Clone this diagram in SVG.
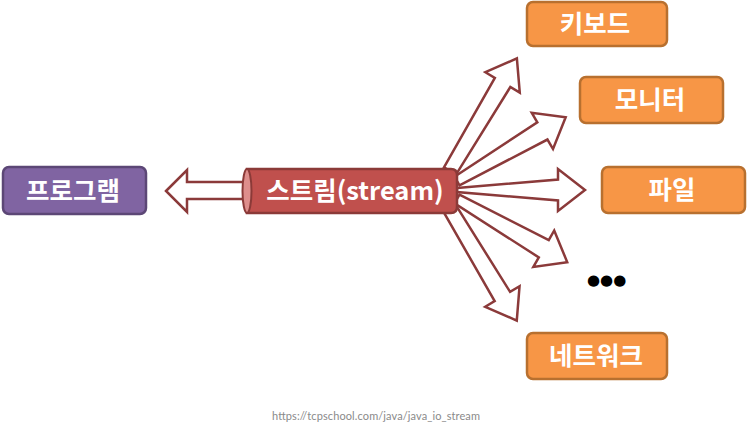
<svg xmlns="http://www.w3.org/2000/svg" width="750" height="433" viewBox="0 0 750 433">
<style>
.arr{fill:#ffffff;stroke:#8B3A3A;stroke-width:2.5;stroke-linejoin:miter}
.org{fill:#F79646;stroke:#B8702F;stroke-width:2.5}
.lbl{font-family:"Noto Sans CJK KR","Noto Sans",sans-serif;font-weight:bold;font-size:25.5px;fill:#ffffff;text-anchor:middle}
</style>
<rect width="750" height="433" fill="#ffffff"/>
<g id="connectors">
<polygon class="arr" points="166,191 187,170 187,182 245,182 245,199 187,199 187,212"/>
<polygon class="arr" transform="translate(450,171) rotate(-59.3)" points="0,-7 103,-9 103,-20 131,0 103,20 103,9 0,7"/>
<polygon class="arr" transform="translate(457,181) rotate(-30.4)" points="0,-5 99,-10 99,-21 126,0 99,21 99,10 0,5"/>
<polygon class="arr" transform="translate(457,190)" points="0,-2 101,-10.5 101,-21 128,0 101,21 101,10.5 0,2"/>
<polygon class="arr" transform="translate(457,199) rotate(29.8)" points="0,-5 100,-10 100,-21 127,0 100,21 100,10 0,5"/>
<polygon class="arr" transform="translate(450,209) rotate(59.1)" points="0,-7 102,-9 102,-20 130,0 102,20 102,9 0,7"/>
</g>
<g id="program">
<rect x="3" y="167" width="143" height="47" rx="6" fill="#8064A2" stroke="#5C4776" stroke-width="2.5"/>
<text class="lbl" x="73" y="200">프로그램</text>
</g>
<g id="stream">
<path d="M247,169 H451 Q457,169 457,175 V207 Q457,213 451,213 H247 Z" fill="#C0504D" stroke="#8B3A38" stroke-width="2.5"/>
<ellipse cx="247" cy="191" rx="4.5" ry="22" fill="#DE8E8C" stroke="#8B3A38" stroke-width="2"/>
<text class="lbl" x="355" y="200">스트림(stream)</text>
</g>
<g id="keyboard">
<rect class="org" x="527" y="2" width="140" height="44" rx="6"/>
<text class="lbl" x="595" y="33">키보드</text>
</g>
<g id="monitor">
<rect class="org" x="580" y="77" width="143" height="46" rx="6"/>
<text class="lbl" x="650" y="109">모니터</text>
</g>
<g id="file">
<rect class="org" x="602" y="167" width="143" height="46" rx="6"/>
<text class="lbl" x="672" y="199">파일</text>
</g>
<g id="network">
<rect class="org" x="527" y="333" width="140" height="46" rx="6"/>
<text class="lbl" x="596" y="365">네트워크</text>
</g>
<g id="more">
<text x="587" y="284.5" font-family="DejaVu Sans,sans-serif" font-size="15" fill="#000000">●●●</text>
</g>
<text x="272" y="420" font-family="Lato,sans-serif" font-size="11" fill="#8a8a8a" textLength="208">https://tcpschool.com/java/java_io_stream</text>
</svg>
